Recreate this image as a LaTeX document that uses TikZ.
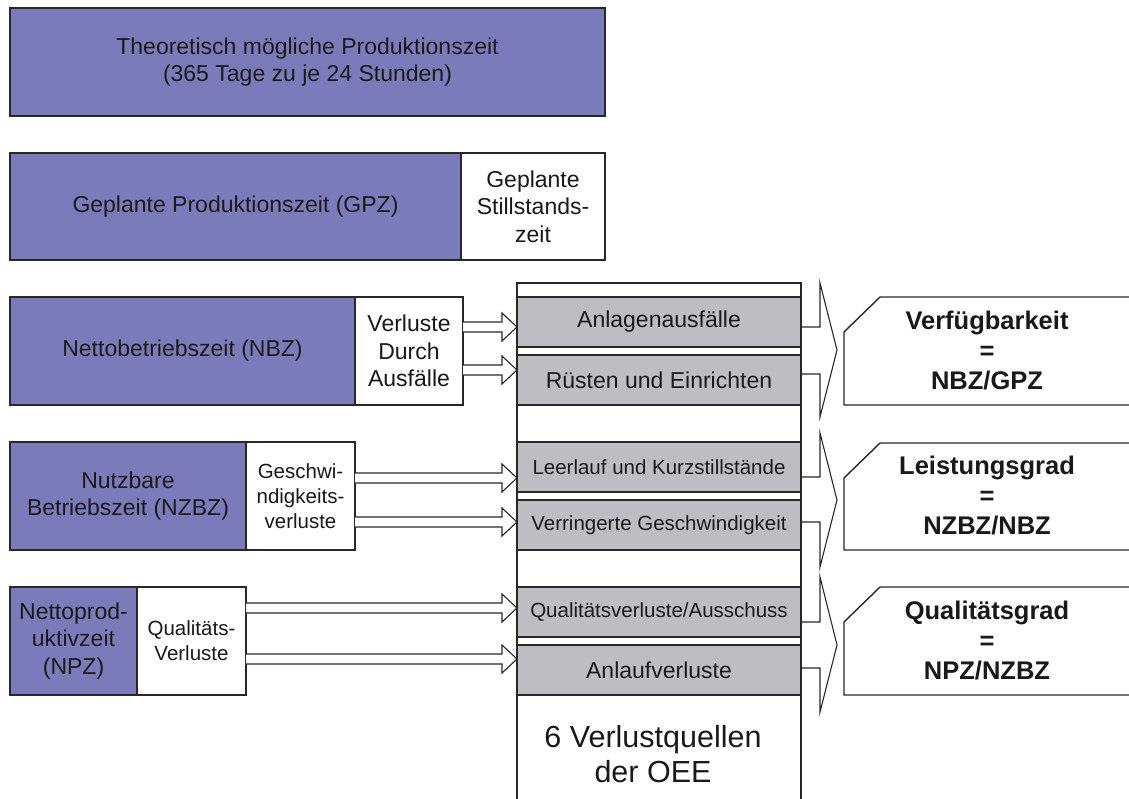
\documentclass[tikz,border=0pt]{standalone}
\usepackage{fontspec}
\setmainfont{Liberation Sans}
\usetikzlibrary{calc}

\definecolor{purp}{RGB}{123,123,188}
\definecolor{lgray}{RGB}{190,190,194}
\definecolor{edge}{RGB}{40,40,40}
\definecolor{ink}{RGB}{25,25,25}

\tikzset{
  box/.style={draw=edge, line width=1.6pt, inner sep=0pt, outer sep=0pt,
    anchor=north west, align=center, text=ink,
    font=\fontsize{23}{27.5}\selectfont},
  timebox/.style={box, fill=purp},
  lossbox/.style={box, fill=white},
  smallloss/.style={lossbox, font=\fontsize{20.5}{25}\selectfont},
  srcbox/.style={box, fill=lgray, minimum width=284pt, minimum height=50pt},
  srcsmall/.style={srcbox, font=\fontsize{20.5}{25}\selectfont},
  hollow/.style={draw=edge, line width=1.1pt, fill=white, line join=miter},
  brace/.style={draw=edge, line width=1.1pt},
  kpi/.style={draw=edge, line width=1.4pt, fill=white},
  kpitext/.style={text=ink, align=center, inner sep=0pt,
    font=\bfseries\fontsize{25.5}{30}\selectfont},
  column/.style={draw=edge, line width=1.6pt},
}

% hollow double-line arrow from #1 to #2 (both at the same height)
\newcommand\hollowarrow[2]{%
  \draw[hollow] let \p1=#1, \p2=#2 in
    (\x1,\y1+5pt) -- (\x2-15pt,\y1+5pt) -- (\x2-15pt,\y1+14pt) -- (\x2,\y1)
    -- (\x2-15pt,\y1-14pt) -- (\x2-15pt,\y1-5pt) -- (\x1,\y1-5pt);}

\begin{document}
\begin{tikzpicture}[x=1pt, y=-1pt]
\useasboundingbox (0,0) rectangle (1129,798);

% time layers
\node[timebox, minimum width=595pt, minimum height=108pt] (tpz) at (10,8)
  {Theoretisch mögliche Produktionszeit\\(365 Tage zu je 24 Stunden)};

\node[timebox, minimum width=451pt, minimum height=107pt] (gpz) at (10,153)
  {Geplante Produktionszeit (GPZ)};
\node[lossbox, minimum width=144pt, minimum height=107pt] (gsz) at (461,153)
  {Geplante\\Stillstands-\\zeit};

\node[timebox, minimum width=345pt, minimum height=108pt] (nbz) at (10,297)
  {Nettobetriebszeit (NBZ)};
\node[lossbox, minimum width=108pt, minimum height=108pt] (vda) at (355,297)
  {Verluste\\Durch\\Ausfälle};

\node[timebox, minimum width=236pt, minimum height=108pt] (nzbz) at (10,442)
  {Nutzbare\\Betriebszeit (NZBZ)};
\node[smallloss, minimum width=109pt, minimum height=108pt] (gv) at (246,442)
  {Geschwi-\\ndigkeits-\\verluste};

\node[timebox, minimum width=127pt, minimum height=108pt] (npz) at (10,587)
  {Nettoprod-\\uktivzeit\\(NPZ)};
\node[smallloss, minimum width=109pt, minimum height=108pt] (qv) at (137,587)
  {Qualitäts-\\Verluste};

% column of the six loss sources
\draw[column] (517,801) -- (517,283) -- (801,283) -- (801,801);
\node[srcbox] (anl) at (517,297) {Anlagenausfälle};
\node[srcbox] (rue) at (517,355) {Rüsten und Einrichten};
\node[srcsmall] (lee) at (517,442) {Leerlauf und Kurzstillstände};
\node[srcsmall] (ver) at (517,500) {Verringerte Geschwindigkeit};
\node[srcsmall] (qua) at (517,587) {Qualitätsverluste/Ausschuss};
\node[srcbox] (anv) at (517,645) {Anlaufverluste};
\node[text=ink, align=center, font=\fontsize{30.5}{35}\selectfont] (oee) at (653,754)
  {6 Verlustquellen\\der OEE};

% loss arrows
\hollowarrow{(vda.east |- 0,327)}{(anl.west |- 0,327)}
\hollowarrow{(vda.east |- 0,370)}{(rue.west |- 0,370)}
\hollowarrow{(gv.east |- 0,478)}{(lee.west |- 0,478)}
\hollowarrow{(gv.east |- 0,522)}{(ver.west |- 0,522)}
\hollowarrow{(qv.east |- 0,608)}{(qua.west |- 0,608)}
\hollowarrow{(qv.east |- 0,659)}{(anv.west |- 0,659)}

% braces gathering each pair of losses
\draw[brace] (anl.east |- 0,327) -| (820,283) -- (837,350) -- (820,417) |- (rue.east |- 0,374);
\draw[brace] (lee.east |- 0,477) -| (820,433) -- (837,500) -- (820,567) |- (ver.east |- 0,522);
\draw[brace] (qua.east |- 0,622) -| (820,577) -- (837,645) -- (820,712) |- (anv.east |- 0,668);

% key figures
\draw[kpi] (1135,297) -- (880,297) -- (844,332) -- (844,405) -- (1135,405);
\node[kpitext] (verf) at (987,351) {Verfügbarkeit\\=\\NBZ/GPZ};
\draw[kpi] (1135,443) -- (880,443) -- (844,478) -- (844,550) -- (1135,550);
\node[kpitext] (leis) at (987,496) {Leistungsgrad\\=\\NZBZ/NBZ};
\draw[kpi] (1135,587) -- (880,587) -- (844,622) -- (844,695) -- (1135,695);
\node[kpitext] (qual) at (987,641) {Qualitätsgrad\\=\\NPZ/NZBZ};
\end{tikzpicture}
\end{document}
